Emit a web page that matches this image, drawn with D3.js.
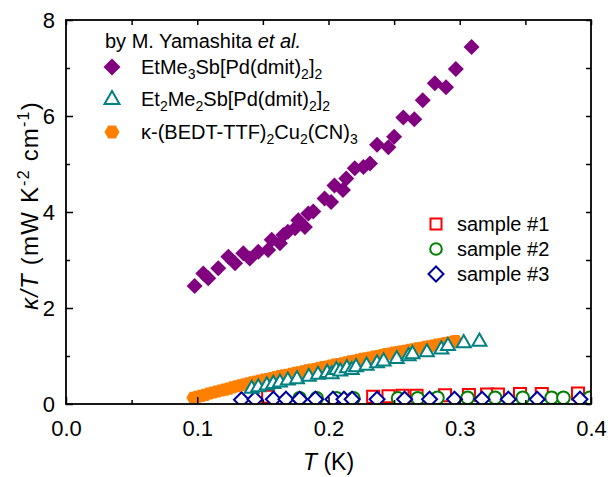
<!DOCTYPE html>
<html>
<head>
<meta charset="utf-8">
<script src="https://cdn.jsdelivr.net/npm/d3@7"></script>
<style>
  body { margin: 0; background: #fff; }
  svg { font-family: "Liberation Sans", Arial, sans-serif; }
</style>
</head>
<body>
<div id="chart"></div>
<script>
// EtMe3Sb[Pd(dmit)2]2  [T (K), kappa/T]
var etme3Data = [
  [0.098, 2.46], [0.1046, 2.72], [0.1084, 2.62], [0.116, 2.83], [0.1237, 3.07],
  [0.1288, 2.93], [0.1351, 3.14], [0.140, 3.03], [0.1465, 3.17], [0.154, 3.21],
  [0.1567, 3.42], [0.163, 3.35], [0.1656, 3.52], [0.169, 3.59], [0.1745, 3.66],
  [0.177, 3.83], [0.182, 3.69], [0.1846, 3.97], [0.1884, 4.01], [0.197, 4.28],
  [0.202, 4.21], [0.2045, 4.55], [0.211, 4.46], [0.2135, 4.70], [0.220, 4.91],
  [0.2266, 4.94], [0.2316, 5.01], [0.237, 5.40], [0.2456, 5.35], [0.250, 5.57],
  [0.257, 5.97], [0.2654, 5.93], [0.2718, 6.33], [0.281, 6.68], [0.2895, 6.60],
  [0.297, 6.98], [0.309, 7.44]
];

// Et2Me2Sb[Pd(dmit)2]2
var et2me2Data = [
  [0.1415, 0.33], [0.1465, 0.36], [0.153, 0.40], [0.158, 0.43], [0.163, 0.46],
  [0.169, 0.50], [0.176, 0.53], [0.185, 0.58], [0.192, 0.62], [0.199, 0.66],
  [0.2024, 0.63], [0.206, 0.72], [0.209, 0.69], [0.214, 0.76], [0.2177, 0.72],
  [0.221, 0.78], [0.229, 0.81], [0.237, 0.86], [0.242, 0.90], [0.252, 0.95],
  [0.261, 1.01], [0.264, 1.05], [0.275, 1.09], [0.286, 1.15], [0.291, 1.22],
  [0.303, 1.28], [0.315, 1.31]
];

// kappa-(BEDT-TTF)2Cu2(CN)3
var bedtData = [
  [0.097, 0.13], [0.100, 0.15], [0.103, 0.17], [0.106, 0.19], [0.109, 0.22],
  [0.112, 0.24], [0.115, 0.26], [0.118, 0.28], [0.121, 0.30], [0.124, 0.32],
  [0.127, 0.35], [0.130, 0.37], [0.133, 0.39], [0.136, 0.41], [0.139, 0.43],
  [0.142, 0.45], [0.145, 0.47], [0.148, 0.49], [0.151, 0.51], [0.154, 0.52],
  [0.157, 0.54], [0.160, 0.56], [0.163, 0.58], [0.166, 0.60], [0.169, 0.61],
  [0.172, 0.63], [0.175, 0.65], [0.178, 0.66], [0.181, 0.68], [0.184, 0.70],
  [0.187, 0.72], [0.190, 0.73], [0.193, 0.75], [0.196, 0.77], [0.199, 0.78],
  [0.202, 0.80], [0.205, 0.82], [0.208, 0.83], [0.211, 0.85], [0.214, 0.87],
  [0.217, 0.89], [0.220, 0.90], [0.223, 0.92], [0.226, 0.94], [0.229, 0.95],
  [0.232, 0.97], [0.235, 0.99], [0.238, 1.00], [0.241, 1.02], [0.244, 1.04],
  [0.247, 1.05], [0.250, 1.07], [0.253, 1.08], [0.256, 1.10], [0.259, 1.11],
  [0.262, 1.13], [0.265, 1.14], [0.268, 1.16], [0.271, 1.17], [0.274, 1.19],
  [0.277, 1.20], [0.280, 1.22], [0.283, 1.24], [0.286, 1.25], [0.289, 1.27],
  [0.292, 1.28], [0.295, 1.30], [0.297, 1.31]
];

// sample #1 (red squares)
var sample1Data = [
  [0.154, 0.15], [0.234, 0.15], [0.2457, 0.16], [0.2564, 0.17], [0.2671, 0.17],
  [0.2888, 0.18], [0.307, 0.19], [0.3208, 0.20], [0.3291, 0.20], [0.3459, 0.21],
  [0.3625, 0.21], [0.3901, 0.22]
];

// sample #2 (green circles)
var sample2Data = [
  [0.178, 0.12], [0.191, 0.12], [0.206, 0.12], [0.219, 0.12], [0.253, 0.12],
  [0.268, 0.12], [0.283, 0.13], [0.306, 0.13], [0.327, 0.13], [0.348, 0.13],
  [0.370, 0.13], [0.379, 0.13], [0.399, 0.13]
];

// sample #3 (blue diamonds)
var sample3Data = [
  [0.1337, 0.09], [0.144, 0.10], [0.158, 0.10], [0.1676, 0.10], [0.178, 0.10],
  [0.190, 0.10], [0.2034, 0.10], [0.2118, 0.10], [0.218, 0.10], [0.237, 0.10],
  [0.258, 0.10], [0.277, 0.10], [0.296, 0.10], [0.317, 0.10], [0.337, 0.10],
  [0.359, 0.10], [0.3916, 0.10]
];

var xTicks = [0.0, 0.1, 0.2, 0.3, 0.4];
var yTicks = [0, 2, 4, 6, 8];

var width = 608, height = 477;
var margin = {top: 20, right: 17, bottom: 73, left: 66};
var w = width - margin.left - margin.right,
    h = height - margin.top - margin.bottom;

var x = d3.scaleLinear().domain([0, 0.4]).range([0, w]);
var y = d3.scaleLinear().domain([0, 8]).range([h, 0]);

var svg = d3.select("#chart").append("svg")
  .attr("width", width)
  .attr("height", height);

var g = svg.append("g")
  .attr("transform", "translate(" + margin.left + "," + margin.top + ")");

g.append("clipPath").attr("id", "clip")
  .append("rect").attr("width", w).attr("height", h);

// marker shapes
function diamondPath(r) {
  return "M0," + (-r) + "L" + r + ",0L0," + r + "L" + (-r) + ",0Z";
}
function trianglePath(s) {
  var hh = s * 0.866;
  return "M0," + (-hh * 0.62) + "L" + (s / 2) + "," + (hh * 0.38) + "L" + (-s / 2) + "," + (hh * 0.38) + "Z";
}
function hexPath(r) {
  var p = [];
  for (var i = 0; i < 6; i++) {
    var a = Math.PI / 3 * i;
    p.push([r * Math.cos(a), r * Math.sin(a)]);
  }
  return "M" + p.map(function(d) { return d.join(","); }).join("L") + "Z";
}
function squarePath(s) {
  return "M" + (-s / 2) + "," + (-s / 2) + "h" + s + "v" + s + "h" + (-s) + "Z";
}

var series = [
  {data: sample1Data, path: squarePath(12), fill: "#fff", stroke: "#ff0000", sw: 2},
  {data: sample2Data, path: null, r: 6.3, fill: "#fff", stroke: "#008000", sw: 2},
  {data: sample3Data, path: diamondPath(7.5), fill: "#fff", stroke: "#0000a0", sw: 2},
  {data: bedtData, path: hexPath(7), fill: "#ff8000", stroke: "none", sw: 0},
  {data: et2me2Data, path: trianglePath(14), fill: "#fff", stroke: "#008080", sw: 2},
  {data: etme3Data, path: diamondPath(8), fill: "#800080", stroke: "none", sw: 0}
];

var plot = g.append("g").attr("clip-path", "url(#clip)");

series.forEach(function(s) {
  var sel = plot.append("g").selectAll("path")
    .data(s.data)
    .enter();
  if (s.path) {
    sel.append("path")
      .attr("d", s.path)
      .attr("transform", function(d) { return "translate(" + x(d[0]) + "," + y(d[1]) + ")"; })
      .attr("fill", s.fill)
      .attr("stroke", s.stroke)
      .attr("stroke-width", s.sw);
  } else {
    sel.append("circle")
      .attr("cx", function(d) { return x(d[0]); })
      .attr("cy", function(d) { return y(d[1]); })
      .attr("r", s.r)
      .attr("fill", s.fill)
      .attr("stroke", s.stroke)
      .attr("stroke-width", s.sw);
  }
});

// frame
g.append("rect")
  .attr("width", w).attr("height", h)
  .attr("fill", "none").attr("stroke", "#000").attr("stroke-width", 1.8);

// ticks point inward on all four sides
var xMinor = d3.range(0.05, 0.4, 0.1);
var yMinor = d3.range(1, 8, 2);

function plain(a) {
  a.select(".domain").remove();
  a.selectAll("line").attr("stroke-width", 1.5);
}

var xAxis = g.append("g").attr("transform", "translate(0," + h + ")")
  .call(d3.axisBottom(x).tickValues(xTicks).tickSizeInner(-7).tickSizeOuter(0).tickPadding(16).tickFormat(d3.format(".1f")));
var yAxis = g.append("g")
  .call(d3.axisLeft(y).tickValues(yTicks).tickSizeInner(-7).tickSizeOuter(0).tickPadding(11).tickFormat(d3.format("d")));
[xAxis, yAxis].forEach(function(a) {
  plain(a);
  a.selectAll("text").attr("font-size", 22).attr("fill", "#000")
    .attr("font-family", "Liberation Sans, Arial, sans-serif");
});

g.append("g").attr("transform", "translate(0," + h + ")")
  .call(d3.axisBottom(x).tickValues(xMinor).tickSizeInner(-4).tickSizeOuter(0).tickFormat(""))
  .call(plain);
g.append("g")
  .call(d3.axisLeft(y).tickValues(yMinor).tickSizeInner(-4).tickSizeOuter(0).tickFormat(""))
  .call(plain);

// top and right
g.append("g")
  .call(d3.axisTop(x).tickValues(xTicks.concat(xMinor)).tickSizeInner(-5).tickSizeOuter(0).tickFormat(""))
  .call(plain);
g.append("g").attr("transform", "translate(" + w + ",0)")
  .call(d3.axisRight(y).tickValues(yTicks.concat(yMinor)).tickSizeInner(-5).tickSizeOuter(0).tickFormat(""))
  .call(plain);

// rich text helper: parts = [[text, kind]] kind: null, "sub", "sup", "it"
function richText(sel, parts, subSize) {
  var shift = 0;
  parts.forEach(function(p) {
    var t = sel.append("tspan").text(p[0]);
    var target = p[1] === "sub" ? 5 : p[1] === "sup" ? -9 : 0;
    t.attr("dy", target - shift);
    shift = target;
    if (p[1] === "sub" || p[1] === "sup") t.attr("font-size", subSize);
    if (p[1] === "it") t.attr("font-style", "italic");
  });
}

// axis titles
var xt = svg.append("text")
  .attr("x", margin.left + w / 2).attr("y", 470)
  .attr("text-anchor", "middle").attr("font-size", 23);
richText(xt, [["T", "it"], [" (K)", null]], 15);

var yt = svg.append("text")
  .attr("transform", "translate(38,310) rotate(-90)")
  .attr("text-anchor", "start").attr("font-size", 24)
  .attr("letter-spacing", 1.2);
richText(yt, [["\u03BA/T", "it"], [" (mW K", null], ["-2", "sup"], [" cm", null], ["-1", "sup"], [")", null]], 16);

// legend, upper left
var leg = svg.append("g");
var title = leg.append("text").attr("x", 105).attr("y", 48).attr("font-size", 20);
richText(title, [["by M. Yamashita ", null], ["et al.", "it"]], 14);

var legRows = [
  {y: 74, path: diamondPath(8.5), fill: "#800080", stroke: "none",
   parts: [["EtMe", null], ["3", "sub"], ["Sb[Pd(dmit)", null], ["2", "sub"], ["]", null], ["2", "sub"]]},
  {y: 106, path: trianglePath(15), fill: "#fff", stroke: "#008080",
   parts: [["Et", null], ["2", "sub"], ["Me", null], ["2", "sub"], ["Sb[Pd(dmit)", null], ["2", "sub"], ["]", null], ["2", "sub"]]},
  {y: 139, path: hexPath(7.5), fill: "#ff8000", stroke: "none",
   parts: [["\u03BA-(BEDT-TTF)", null], ["2", "sub"], ["Cu", null], ["2", "sub"], ["(CN)", null], ["3", "sub"]]}
];
legRows.forEach(function(r) {
  leg.append("path").attr("d", r.path)
    .attr("transform", "translate(112," + (r.y - 7) + ")")
    .attr("fill", r.fill).attr("stroke", r.stroke).attr("stroke-width", 2);
  var t = leg.append("text").attr("x", 141).attr("y", r.y).attr("font-size", 20);
  richText(t, r.parts, 14);
});

// legend, samples
var sampleRows = [
  {y: 224, label: "sample #1", kind: "square", stroke: "#ff0000"},
  {y: 249, label: "sample #2", kind: "circle", stroke: "#008000"},
  {y: 274, label: "sample #3", kind: "diamond", stroke: "#0000a0"}
];
sampleRows.forEach(function(r) {
  if (r.kind === "circle") {
    leg.append("circle").attr("cx", 436).attr("cy", r.y).attr("r", 5.8)
      .attr("fill", "#fff").attr("stroke", r.stroke).attr("stroke-width", 2);
  } else {
    leg.append("path").attr("d", r.kind === "square" ? squarePath(11) : diamondPath(7.5))
      .attr("transform", "translate(436," + r.y + ")")
      .attr("fill", "#fff").attr("stroke", r.stroke).attr("stroke-width", 2);
  }
  leg.append("text").attr("x", 457).attr("y", r.y + 7).attr("font-size", 20).text(r.label);
});
</script>
</body>
</html>
